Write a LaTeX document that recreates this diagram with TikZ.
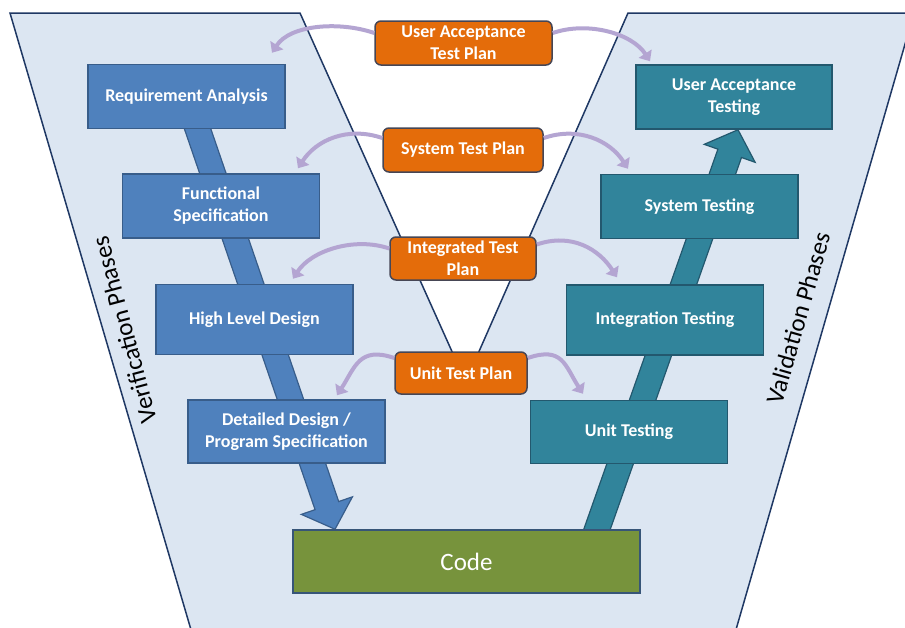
\documentclass[tikz,border=0pt]{standalone}
\usepackage{fontspec}
\setmainfont{Carlito}
\usepackage{xcolor}
\usetikzlibrary{positioning, arrows.meta, calc}

\definecolor{panelfill}{RGB}{220,230,242}
\definecolor{panelline}{RGB}{31,56,100}
\definecolor{verblue}{RGB}{79,129,189}
\definecolor{verline}{RGB}{56,93,138}
\definecolor{valteal}{RGB}{49,132,155}
\definecolor{valline}{RGB}{35,88,110}
\definecolor{planorange}{RGB}{228,108,10}
\definecolor{planline}{RGB}{70,70,85}
\definecolor{codegreen}{RGB}{119,147,60}
\definecolor{codeline}{RGB}{55,85,120}
\definecolor{lavender}{RGB}{180,165,210}

\pgfdeclarelayer{back}
\pgfdeclarelayer{mid}
\pgfsetlayers{back,mid,main}

\begin{document}
\begin{tikzpicture}[
	x=1pt, y=1pt,
	box/.style={
		draw,
		rectangle,
		line width=1.5pt,
		minimum width=197pt,
		minimum height=64pt,
		inner sep=2pt,
		align=center,
		text=white,
		font=\fontsize{18}{22}\selectfont\bfseries
	},
	verbox/.style={box, fill=verblue, draw=verline},
	valbox/.style={box, fill=valteal, draw=valline},
	planbox/.style={box, fill=planorange, draw=planline, rounded corners=6pt, minimum height=43pt},
	codebox/.style={box, fill=codegreen, draw=codeline, minimum width=347pt, minimum height=63pt, font=\fontsize{25}{30}\selectfont},
	plan/.style={line width=4pt, draw=lavender, -{Triangle[length=9pt,width=15pt]}},
	phase/.style={font=\fontsize{25}{30}\selectfont}
	]
	
	\useasboundingbox (0,0) rectangle (905,-627);
	
	% Verification boxes
	\node[verbox] (ra) at (186.5,-96.5) {Requirement Analysis};
	\node[verbox, below=44pt of ra, xshift=34.5pt] (fs) {Functional\\Specification};
	\node[verbox, below=45pt of fs, xshift=33.5pt, minimum height=70pt] (hld) {High Level Design};
	\node[verbox, below=44pt of hld, xshift=32pt, minimum height=63pt] (dd) {Detailed Design /\\Program Specification};
	
	% Validation boxes
	\node[valbox, minimum width=196pt] (uat) at (734,-97) {User Acceptance\\Testing};
	\node[valbox, below=44pt of uat, xshift=-34.5pt] (st) {System Testing};
	\node[valbox, below=45pt of st, xshift=-34.5pt, minimum height=70pt] (it) {Integration Testing};
	\node[valbox, below=44pt of it, xshift=-36pt, minimum height=63pt] (ut) {Unit Testing};
	
	% Code box
	\node[codebox] (code) at (466.5,-561.5) {Code};
	
	% Test plans
	\node[planbox, minimum width=177pt, minimum height=44pt] (uatp) at (463.5,-43) {User Acceptance\\Test Plan};
	\node[planbox, minimum width=160pt, minimum height=44pt] (stp) at (463,-150) {System Test Plan};
	\node[planbox, minimum width=146pt] (itp) at (463,-258.5) {Integrated Test\\Plan};
	\node[planbox, minimum width=132pt, minimum height=42pt] (utp) at (461,-373) {Unit Test Plan};
	
	% Phase labels
	\node[phase, rotate=105] (verif) at (124,-330) {Verification Phases};
	\node[phase, rotate=74] (valid) at (798,-318) {Validation Phases};
	
	% Background panel
	\begin{pgfonlayer}{back}
		\clip (0,0) rectangle (905,-627);
		\filldraw[fill=panelfill, draw=panelline, line width=1.5pt] (10,-13) -- (300,-13) -- (454,-356) -- (477,-356) -- (628,-13) -- (914,-13) -- (733,-640) -- (194,-640) -- cycle;
	\end{pgfonlayer}
	
	% Big arrows down and up the V
	\coordinate (vtip) at ([xshift=-131.5pt]code.north);
	\coordinate (vfoot) at ([xshift=127pt,yshift=-10pt]code.north);
	\coordinate (vtop) at ([xshift=4pt]uat.south);
	\begin{pgfonlayer}{mid}
		\foreach \a/\b/\c/\d in {ra.center/vtip/verblue/verline, vfoot/vtop/valteal/valline} {
			\coordinate (base) at ($(\b)!25pt!(\a)$);
			\filldraw[fill=\c, draw=\d, line width=1.2pt]
			($(\a)!12.5pt!90:(\b)$) -- ($(base)!12.5pt!90:(\b)$) -- ($(base)!27pt!90:(\b)$) -- (\b)
			-- ($(base)!27pt!-90:(\b)$) -- ($(base)!12.5pt!-90:(\b)$) -- ($(\a)!12.5pt!-90:(\b)$) -- cycle;
		}
	\end{pgfonlayer}
	
	% Test plan arrows
	\foreach \p/\sy/\t/\tx/\ty in {uatp/10/ra/85.5/11, stp/12/fs/77/5, itp/10/hld/38.5/5, utp/15/dd/50.5/4}
		\draw[plan] ([yshift=\sy pt]\p.west) .. controls +(-35,12) and +(18,28) .. ([xshift=\tx pt,yshift=\ty pt]\t.north);
	\foreach \p/\sy/\t/\tx/\ty in {uatp/10/uat/-84/3, stp/12/st/-71.5/5, itp/14/it/-48/7, utp/15/ut/-46/6}
		\draw[plan] ([yshift=\sy pt]\p.east) .. controls +(35,12) and +(-18,28) .. ([xshift=\tx pt,yshift=\ty pt]\t.north);
	
\end{tikzpicture}
\end{document}
